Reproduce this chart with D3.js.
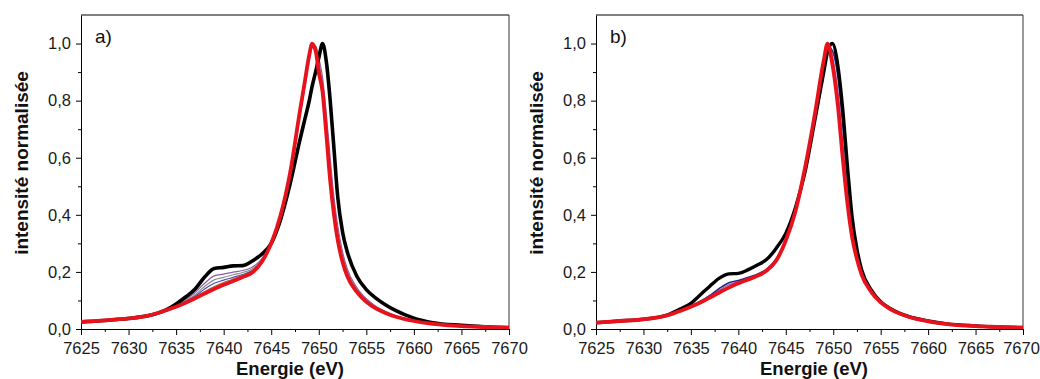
<!DOCTYPE html>
<html><head><meta charset="utf-8">
<script src="https://cdn.jsdelivr.net/npm/d3@7"></script>
<style>
html,body{margin:0;padding:0;background:#fff;}
svg{display:block;}
text{font-family:"Liberation Sans",Arial,sans-serif;}
</style></head>
<body>
<svg id="c" width="1040" height="379"></svg>
<script>
// ---- data ----
const xTicks = [7625,7630,7635,7640,7645,7650,7655,7660,7665,7670];
const yTicks = [0,0.2,0.4,0.6,0.8,1.0];
const panelLabels = ["a)","b)"];
const xTitle = "Energie (eV)";
const yTitle = "intensité normalisée";

const energiesA = [7625,7627.5,7630,7632,7634,7635,7636,7637,7638,7639,7640,7641,7642,7643,7644,7645,7646,7647,7648,7648.5,7649,7649.3,7649.7,7650,7650.4,7650.8,7651.2,7651.6,7652,7652.5,7653,7654,7655,7656,7657,7658,7660,7662,7665,7667.5,7670];
const blackA = [0.025,0.030,0.037,0.046,0.068,0.088,0.112,0.140,0.182,0.212,0.216,0.221,0.222,0.238,0.262,0.300,0.385,0.510,0.660,0.730,0.800,0.850,0.905,0.950,1.000,0.935,0.800,0.630,0.460,0.340,0.270,0.185,0.138,0.108,0.085,0.066,0.038,0.022,0.013,0.008,0.005];
const redA = [0.025,0.030,0.037,0.046,0.066,0.078,0.092,0.108,0.124,0.140,0.155,0.168,0.182,0.198,0.235,0.300,0.400,0.550,0.760,0.860,0.960,1.000,0.970,0.900,0.830,0.680,0.520,0.400,0.310,0.235,0.185,0.130,0.095,0.072,0.056,0.044,0.028,0.018,0.010,0.007,0.004];
const interA1 = [0.025,0.030,0.037,0.046,0.067,0.084,0.104,0.128,0.160,0.186,0.192,0.199,0.205,0.216,0.246,0.300,0.395,0.540,0.740,0.840,0.940,0.985,0.990,0.950,0.880,0.750,0.600,0.460,0.360,0.270,0.210,0.145,0.106,0.080,0.062,0.048,0.030,0.019,0.011,0.007,0.004];
const interA2 = [0.025,0.030,0.037,0.046,0.066,0.081,0.099,0.120,0.149,0.172,0.181,0.190,0.198,0.210,0.241,0.300,0.398,0.545,0.750,0.850,0.950,0.995,0.985,0.935,0.860,0.720,0.565,0.435,0.340,0.255,0.200,0.140,0.102,0.077,0.060,0.047,0.029,0.018,0.010,0.007,0.004];
const interA3 = [0.025,0.030,0.037,0.046,0.066,0.080,0.096,0.115,0.140,0.160,0.171,0.181,0.191,0.205,0.238,0.300,0.400,0.548,0.755,0.855,0.955,0.998,0.978,0.920,0.850,0.705,0.545,0.420,0.325,0.245,0.193,0.135,0.098,0.074,0.057,0.045,0.028,0.018,0.010,0.007,0.004];
const interA4 = [0.025,0.030,0.037,0.046,0.066,0.079,0.094,0.111,0.131,0.149,0.163,0.175,0.188,0.202,0.236,0.300,0.400,0.550,0.758,0.858,0.958,1.000,0.972,0.910,0.840,0.690,0.530,0.410,0.318,0.240,0.189,0.132,0.096,0.073,0.056,0.044,0.028,0.018,0.010,0.007,0.004];

const energiesB = [7625,7627.5,7630,7632.5,7634,7635,7636,7637,7638,7639,7640,7641,7642,7643,7644,7645,7646,7647,7648,7649,7649.4,7649.9,7650.5,7651,7651.5,7652,7652.5,7653,7654,7655,7656,7657,7658,7660,7662,7665,7667.5,7670];
const blackB = [0.022,0.028,0.034,0.049,0.072,0.090,0.120,0.150,0.178,0.193,0.195,0.207,0.224,0.244,0.283,0.335,0.423,0.546,0.720,0.900,0.970,1.000,0.920,0.770,0.570,0.390,0.280,0.207,0.137,0.096,0.072,0.055,0.043,0.028,0.018,0.011,0.007,0.005];
const redB = [0.022,0.028,0.034,0.048,0.065,0.078,0.093,0.110,0.128,0.145,0.160,0.173,0.186,0.205,0.240,0.310,0.410,0.560,0.740,0.940,1.000,0.930,0.780,0.600,0.440,0.320,0.245,0.190,0.130,0.093,0.070,0.054,0.042,0.027,0.017,0.010,0.007,0.004];
const interB1 = [0.022,0.028,0.034,0.048,0.066,0.080,0.097,0.118,0.142,0.162,0.170,0.180,0.192,0.210,0.246,0.315,0.415,0.560,0.735,0.925,0.990,0.975,0.880,0.720,0.530,0.370,0.270,0.202,0.135,0.095,0.071,0.055,0.043,0.028,0.018,0.011,0.007,0.005];
const interB2 = [0.022,0.028,0.034,0.048,0.066,0.079,0.095,0.114,0.136,0.155,0.166,0.177,0.189,0.207,0.243,0.312,0.412,0.560,0.738,0.932,0.995,0.955,0.830,0.660,0.490,0.345,0.258,0.196,0.133,0.094,0.070,0.054,0.042,0.027,0.017,0.010,0.007,0.004];
const interB3 = [0.022,0.028,0.034,0.048,0.065,0.078,0.094,0.112,0.132,0.150,0.163,0.175,0.188,0.206,0.242,0.311,0.411,0.560,0.739,0.936,0.998,0.945,0.805,0.630,0.465,0.333,0.252,0.193,0.131,0.093,0.070,0.054,0.042,0.027,0.017,0.010,0.007,0.004];

const panels = [
  {label: panelLabels[0], energies: energiesA, left: 81, right: 509, titleX: 290, yTitleX: 28,
   series: [
     {v: interA1, color: "#8e5ba8", w: 1.2},
     {v: interA2, color: "#8c8c8c", w: 1.2},
     {v: interA3, color: "#4b4bb0", w: 1.2},
     {v: interA4, color: "#9b6b3a", w: 1.2},
     {v: blackA, color: "#000000", w: 3.6},
     {v: redA, color: "#e8121c", w: 3.8}
   ]},
  {label: panelLabels[1], energies: energiesB, left: 596, right: 1023, titleX: 814, yTitleX: 543,
   series: [
     {v: interB2, color: "#a050c0", w: 1.2},
     {v: interB3, color: "#8a9a40", w: 1.2},
     {v: interB1, color: "#2a2a80", w: 1.6},
     {v: blackB, color: "#000000", w: 3.4},
     {v: redB, color: "#e8121c", w: 3.8}
   ]}
];

const plotTop = 15, plotBottom = 329;
const svg = d3.select("#c");
const fmt = d => d3.format(".1f")(d).replace(".", ",");

panels.forEach((p, i) => {
  const x = d3.scaleLinear().domain([7625, 7670]).range([p.left, p.right]);
  const y = d3.scaleLinear().domain([0, 1.1]).range([plotBottom, plotTop]);
  const g = svg.append("g");

  g.append("clipPath").attr("id", "clip" + i).append("rect")
    .attr("x", p.left).attr("y", plotTop).attr("width", p.right - p.left).attr("height", plotBottom - plotTop);

  // frame top & right
  g.append("line").attr("x1", p.left).attr("x2", p.right).attr("y1", plotTop).attr("y2", plotTop)
    .attr("stroke", "#808080").attr("stroke-width", 1.8);
  g.append("line").attr("x1", p.right).attr("x2", p.right).attr("y1", plotTop).attr("y2", plotBottom)
    .attr("stroke", "#333").attr("stroke-width", 1);

  // minor ticks
  const xMinor = d3.range(7627.5, 7670, 5);
  g.append("g").attr("transform", `translate(0,${plotBottom})`)
    .call(d3.axisBottom(x).tickValues(xMinor).tickSize(3).tickFormat(""))
    .call(a => a.select(".domain").remove());
  const yMinor = [0.1, 0.3, 0.5, 0.7, 0.9];
  g.append("g").attr("transform", `translate(${p.left},0)`)
    .call(d3.axisLeft(y).tickValues(yMinor).tickSize(3).tickFormat(""))
    .call(a => a.select(".domain").remove());

  // main axes
  const xa = g.append("g").attr("transform", `translate(0,${plotBottom})`)
    .call(d3.axisBottom(x).tickValues(xTicks).tickSize(6).tickPadding(7).tickSizeOuter(0).tickFormat(d3.format("d")));
  const ya = g.append("g").attr("transform", `translate(${p.left},0)`)
    .call(d3.axisLeft(y).tickValues(yTicks).tickSize(5).tickPadding(5).tickSizeOuter(0).tickFormat(fmt));
  [xa, ya].forEach(a => {
    a.selectAll("text").attr("font-size", 16.5).attr("fill", "#1a1a1a")
      .attr("font-family", "'Liberation Sans', Arial, sans-serif");
    a.select(".domain").attr("stroke", "#000");
  });
  // keep last x label inside the window on the right panel
  if (i === 1) xa.selectAll(".tick text").filter(d => d === 7670).attr("dx", -2);

  // lines
  const line = d3.line().x((d, k) => x(p.energies[k])).y(d => y(d)).curve(d3.curveMonotoneX);
  const lg = g.append("g").attr("clip-path", `url(#clip${i})`);
  p.series.forEach(s => {
    lg.append("path").datum(s.v).attr("d", line)
      .attr("fill", "none").attr("stroke", s.color).attr("stroke-width", s.w)
      .attr("stroke-linejoin", "round").attr("stroke-linecap", "round");
  });

  // labels
  g.append("text").attr("x", p.left + 14).attr("y", 43).text(p.label)
    .attr("font-size", 19).attr("font-family", "'Open Sans', 'Liberation Sans', sans-serif").attr("fill", "#111");
  g.append("text").attr("x", p.titleX).attr("y", 375).attr("text-anchor", "middle")
    .attr("font-size", 18.5).attr("font-weight", "bold").attr("fill", "#111").text(xTitle);
  g.append("text").attr("transform", `translate(${p.yTitleX},163) rotate(-90)`).attr("text-anchor", "middle")
    .attr("font-size", 19).attr("font-weight", "bold").attr("fill", "#111").text(yTitle);
});
</script>
</body></html>
